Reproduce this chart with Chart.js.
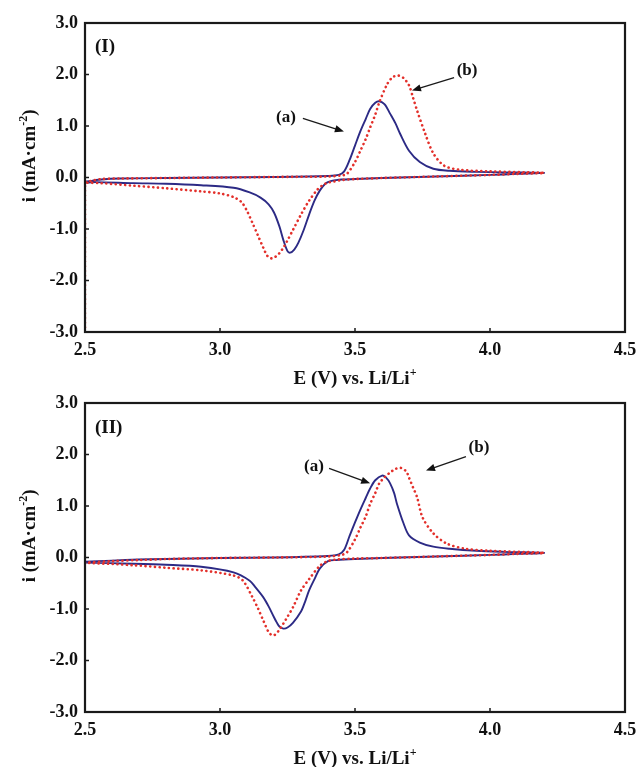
<!DOCTYPE html>
<html>
<head>
<meta charset="utf-8">
<script src="https://cdn.jsdelivr.net/npm/chart.js@4/dist/chart.umd.min.js"></script>
<style>
  html, body { margin: 0; padding: 0; background: #fff; }
  canvas { display: block; }
</style>
</head>
<body>
<canvas id="cv1" width="638" height="390"></canvas>
<canvas id="cv2" width="638" height="377"></canvas>
<script>
// panel (I): curve (a) solid blue, curve (b) dotted red  -- E in V, i in mA/cm2
const topA_E = [2.50, 2.50, 2.52, 2.56, 2.63, 2.80, 3.00, 3.20, 3.40, 3.44, 3.46, 3.48, 3.50, 3.52, 3.54, 3.556, 3.575, 3.59, 3.61, 3.63, 3.65, 3.667, 3.70, 3.74, 3.79, 3.85, 3.95, 4.05, 4.20,
                4.10, 4.00, 3.80, 3.60, 3.50, 3.45, 3.43, 3.41, 3.39, 3.37, 3.35, 3.33, 3.31, 3.29, 3.275, 3.26, 3.25, 3.235, 3.22, 3.20, 3.18, 3.15, 3.11, 3.05, 2.93, 2.80, 2.68, 2.54, 2.50];
const topA_I = [-3.0, -0.10, -0.07, -0.04, -0.02, -0.01, 0.0, 0.01, 0.03, 0.05, 0.12, 0.34, 0.62, 0.90, 1.14, 1.33, 1.45, 1.48, 1.42, 1.24, 1.05, 0.85, 0.52, 0.30, 0.17, 0.13, 0.11, 0.10, 0.09,
                0.07, 0.05, 0.02, -0.01, -0.03, -0.04, -0.05, -0.07, -0.12, -0.25, -0.45, -0.72, -1.02, -1.27, -1.40, -1.46, -1.43, -1.22, -0.95, -0.68, -0.52, -0.39, -0.29, -0.20, -0.15, -0.12, -0.11, -0.09, -0.10];
const topB_E = [2.50, 2.50, 2.52, 2.56, 2.63, 2.80, 3.00, 3.20, 3.40, 3.45, 3.47, 3.50, 3.52, 3.54, 3.556, 3.575, 3.59, 3.62, 3.64, 3.66, 3.68, 3.70, 3.715, 3.73, 3.76, 3.79, 3.83, 3.89, 4.00, 4.20,
                4.10, 4.00, 3.80, 3.60, 3.50, 3.45, 3.42, 3.40, 3.38, 3.36, 3.33, 3.30, 3.27, 3.25, 3.235, 3.22, 3.205, 3.19, 3.175, 3.16, 3.14, 3.12, 3.10, 3.08, 3.05, 3.00, 2.93, 2.80, 2.68, 2.56, 2.50];
const topB_I = [-3.0, -0.10, -0.07, -0.03, -0.02, -0.01, 0.0, 0.01, 0.02, 0.04, 0.07, 0.30, 0.52, 0.75, 0.97, 1.22, 1.46, 1.82, 1.95, 1.98, 1.93, 1.79, 1.55, 1.30, 0.85, 0.47, 0.23, 0.15, 0.12, 0.09,
                0.07, 0.05, 0.02, -0.01, -0.03, -0.05, -0.08, -0.10, -0.15, -0.24, -0.45, -0.72, -1.02, -1.22, -1.36, -1.47, -1.54, -1.57, -1.52, -1.36, -1.12, -0.88, -0.65, -0.48, -0.38, -0.31, -0.27, -0.21, -0.16, -0.11, -0.10];

// panel (II)
const botA_E = [2.50, 2.60, 2.70, 2.80, 3.00, 3.20, 3.40, 3.44, 3.46, 3.48, 3.50, 3.52, 3.54, 3.556, 3.575, 3.60, 3.615, 3.63, 3.645, 3.655, 3.68, 3.70, 3.74, 3.79, 3.85, 3.95, 4.05, 4.20,
                4.10, 4.00, 3.80, 3.60, 3.50, 3.43, 3.40, 3.37, 3.35, 3.33, 3.315, 3.30, 3.27, 3.25, 3.235, 3.22, 3.21, 3.20, 3.18, 3.16, 3.13, 3.11, 3.05, 2.93, 2.80, 2.68, 2.50];
const botA_I = [-0.08, -0.06, -0.04, -0.03, -0.01, 0.0, 0.03, 0.06, 0.15, 0.42, 0.68, 0.93, 1.16, 1.34, 1.50, 1.59, 1.55, 1.44, 1.25, 1.05, 0.66, 0.43, 0.29, 0.21, 0.17, 0.13, 0.11, 0.09,
                0.07, 0.05, 0.02, -0.01, -0.03, -0.05, -0.07, -0.21, -0.42, -0.64, -0.86, -1.05, -1.27, -1.36, -1.38, -1.34, -1.26, -1.16, -0.95, -0.77, -0.57, -0.45, -0.29, -0.18, -0.14, -0.12, -0.10];
const botB_E = [2.50, 2.60, 2.70, 2.80, 3.00, 3.20, 3.40, 3.45, 3.47, 3.50, 3.52, 3.54, 3.556, 3.575, 3.59, 3.61, 3.63, 3.65, 3.67, 3.69, 3.70, 3.715, 3.73, 3.75, 3.79, 3.84, 3.91, 4.00, 4.20,
                4.10, 4.00, 3.80, 3.60, 3.50, 3.43, 3.40, 3.37, 3.33, 3.30, 3.27, 3.25, 3.235, 3.22, 3.21, 3.20, 3.19, 3.18, 3.16, 3.14, 3.12, 3.085, 3.05, 2.93, 2.80, 2.68, 2.50];
const botB_I = [-0.10, -0.07, -0.05, -0.03, -0.01, 0.0, 0.02, 0.05, 0.10, 0.35, 0.58, 0.80, 1.04, 1.25, 1.44, 1.56, 1.65, 1.72, 1.74, 1.67, 1.55, 1.36, 1.17, 0.78, 0.47, 0.27, 0.17, 0.13, 0.09,
                0.07, 0.05, 0.02, -0.01, -0.02, -0.04, -0.07, -0.16, -0.42, -0.64, -0.97, -1.15, -1.28, -1.40, -1.47, -1.51, -1.50, -1.45, -1.22, -0.98, -0.77, -0.45, -0.35, -0.25, -0.20, -0.15, -0.10];

const xTicks = [2.5, 3.0, 3.5, 4.0, 4.5];
const yTicks = [-3, -2, -1, 0, 1, 2, 3];

const SERIF = "'Liberation Serif', 'Times New Roman', serif";
const BLUE = '#2c2a85';
const RED = '#e3302b';

function pts(es, is) {
  return es.map((e, k) => ({ x: e, y: is[k] }));
}

function drawRich(ctx, parts, size) {
  // parts: [text, isSup]
  let w = 0;
  parts.forEach(p => {
    ctx.font = `bold ${p[1] ? Math.round(size * 0.62) : size}px ${SERIF}`;
    w += ctx.measureText(p[0]).width;
  });
  let x = -w / 2;
  parts.forEach(p => {
    ctx.font = `bold ${p[1] ? Math.round(size * 0.62) : size}px ${SERIF}`;
    ctx.fillText(p[0], x, p[1] ? -size * 0.42 : 0);
    x += ctx.measureText(p[0]).width;
  });
}

function arrow(ctx, x1, y1, x2, y2) {
  const ang = Math.atan2(y2 - y1, x2 - x1);
  const hl = 9, hw = 3.6;
  ctx.beginPath();
  ctx.moveTo(x1, y1);
  ctx.lineTo(x2 - Math.cos(ang) * hl * 0.8, y2 - Math.sin(ang) * hl * 0.8);
  ctx.stroke();
  ctx.beginPath();
  ctx.moveTo(x2, y2);
  ctx.lineTo(x2 - Math.cos(ang) * hl + Math.sin(ang) * hw, y2 - Math.sin(ang) * hl - Math.cos(ang) * hw);
  ctx.lineTo(x2 - Math.cos(ang) * hl - Math.sin(ang) * hw, y2 - Math.sin(ang) * hl + Math.cos(ang) * hw);
  ctx.closePath();
  ctx.fill();
}

const framePlugin = {
  id: 'cvFrame',
  afterDraw(chart, args, opts) {
    const ctx = chart.ctx;
    const a = chart.chartArea;
    const xs = chart.scales.x, ys = chart.scales.y;
    ctx.save();
    ctx.strokeStyle = '#1a1a1a';
    ctx.fillStyle = '#111';
    ctx.lineWidth = 2.2;
    ctx.strokeRect(a.left, a.top, a.right - a.left, a.bottom - a.top);

    // inner tick marks
    ctx.lineWidth = 1.5;
    xTicks.slice(1, -1).forEach(v => {
      const px = xs.getPixelForValue(v);
      ctx.beginPath(); ctx.moveTo(px, a.bottom); ctx.lineTo(px, a.bottom - 4); ctx.stroke();
    });
    yTicks.slice(1, -1).forEach(v => {
      const py = ys.getPixelForValue(v);
      ctx.beginPath(); ctx.moveTo(a.left, py); ctx.lineTo(a.left + 4, py); ctx.stroke();
    });

    // axis titles
    ctx.textBaseline = 'alphabetic';
    ctx.textAlign = 'left';
    ctx.save();
    ctx.translate((a.left + a.right) / 2, a.bottom + 52);
    drawRich(ctx, [['E (V) vs. Li/Li', false], ['+', true]], 19);
    ctx.restore();
    ctx.save();
    ctx.translate(35, a.top + 0.43 * (a.bottom - a.top));
    ctx.rotate(-Math.PI / 2);
    drawRich(ctx, [['i (mA\u00b7cm', false], ['-2', true], [')', false]], 19);
    ctx.restore();

    // panel labels and arrows
    ctx.textBaseline = 'middle';
    (opts.labels || []).forEach(l => {
      ctx.font = `bold ${l.size}px ${SERIF}`;
      ctx.textAlign = l.align || 'center';
      ctx.fillText(l.text, xs.getPixelForValue(l.e), ys.getPixelForValue(l.i));
    });
    ctx.lineWidth = 1.3;
    (opts.arrows || []).forEach(r => {
      arrow(ctx, xs.getPixelForValue(r[0]), ys.getPixelForValue(r[1]),
                 xs.getPixelForValue(r[2]), ys.getPixelForValue(r[3]));
    });
    ctx.restore();
  }
};

function makeChart(id, aE, aI, bE, bI, padTop, xHeight, notes) {
  return new Chart(document.getElementById(id), {
    type: 'scatter',
    data: {
      datasets: [
        {
          label: '(b)',
          data: pts(bE, bI),
          showLine: true,
          borderColor: RED,
          borderWidth: 2.6,
          borderDash: [0.1, 4.6],
          borderCapStyle: 'round',
          pointRadius: 0,
          tension: 0.3,
          order: 1
        },
        {
          label: '(a)',
          data: pts(aE, aI),
          showLine: true,
          borderColor: BLUE,
          borderWidth: 1.9,
          pointRadius: 0,
          tension: 0.3,
          order: 2
        }
      ]
    },
    options: {
      responsive: false,
      animation: false,
      devicePixelRatio: 1,
      layout: { padding: { top: padTop, right: 13, left: 0, bottom: 0 } },
      scales: {
        x: {
          min: 2.5,
          max: 4.5,
          afterBuildTicks: s => { s.ticks = xTicks.map(v => ({ value: v })); },
          afterFit: s => { s.height = xHeight; s.paddingLeft = 0; s.paddingRight = 0; },
          grid: { display: false, drawTicks: false },
          border: { display: false },
          ticks: {
            color: '#111',
            padding: 8,
            maxRotation: 0,
            font: { family: SERIF, size: 18, weight: 'bold' },
            callback: v => Number(v).toFixed(1)
          }
        },
        y: {
          min: -3,
          max: 3,
          afterBuildTicks: s => { s.ticks = yTicks.map(v => ({ value: v })); },
          afterFit: s => { s.width = 85; s.paddingTop = 0; s.paddingBottom = 0; },
          grid: { display: false, drawTicks: false },
          border: { display: false },
          ticks: {
            color: '#111',
            padding: 7,
            font: { family: SERIF, size: 18, weight: 'bold' },
            callback: v => Number(v).toFixed(1)
          }
        }
      },
      plugins: {
        legend: { display: false },
        tooltip: { enabled: false },
        cvFrame: notes
      }
    },
    plugins: [framePlugin]
  });
}

makeChart('cv1', topA_E, topA_I, topB_E, topB_I, 23, 58, {
  labels: [
    { text: '(I)', e: 2.537, i: 2.54, size: 19, align: 'left' },
    { text: '(a)', e: 3.244, i: 1.165, size: 17 },
    { text: '(b)', e: 3.915, i: 2.08, size: 17 }
  ],
  arrows: [[3.307, 1.146, 3.459, 0.893], [3.867, 1.94, 3.711, 1.69]]
});

makeChart('cv2', botA_E, botA_I, botB_E, botB_I, 13, 55, {
  labels: [
    { text: '(II)', e: 2.537, i: 2.52, size: 19, align: 'left' },
    { text: '(a)', e: 3.348, i: 1.77, size: 17 },
    { text: '(b)', e: 3.959, i: 2.14, size: 17 }
  ],
  arrows: [[3.404, 1.73, 3.556, 1.44], [3.911, 1.96, 3.763, 1.69]]
});
</script>
</body>
</html>
